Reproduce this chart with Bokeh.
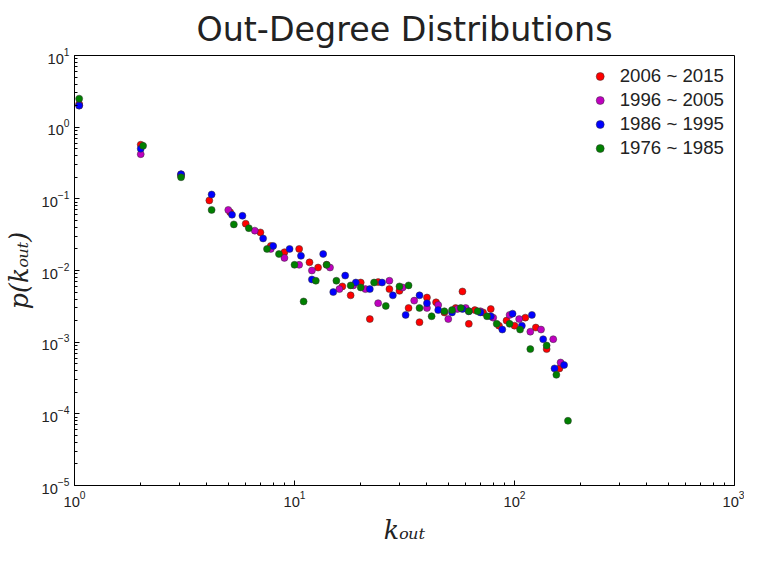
from bokeh.plotting import figure
from bokeh.models import Legend, LegendItem, LogTickFormatter, FixedTicker
from bokeh.embed import file_html
from bokeh.resources import INLINE

labels = ["2006 ~ 2015", "1996 ~ 2005", "1986 ~ 1995", "1976 ~ 1985"]
colors = ["red", "#bf00bf", "blue", "green"]

k_red = [1.05,2,3.05,4.1,5.1,6,7,7.8,9,10.5,11.7,12.8,14,16.5,18,20,22,24,27,30,33,37,40,44,48,54,58,62,66,72,78,85,92,100,112,125,140,160]
p_red = [2.1,0.57,0.21,0.095,0.065,0.045,0.034,0.022,0.018,0.02,0.013,0.011,0.012,0.006,0.0045,0.0068,0.0021,0.0069,0.0055,0.0052,0.003,0.0019,0.0042,0.0036,0.0026,0.003,0.0051,0.0018,0.0028,0.0026,0.0029,0.0017,0.002,0.0017,0.0022,0.0016,0.0008,0.00043]
k_mag = [1.05,2,3.05,5,6.6,7.8,9,10.5,12,14.5,16,18.5,21,24,27,31,35,40,45,50,55,60,70,80,95,105,118,132,150,162]
p_mag = [2.0,0.42,0.22,0.07,0.036,0.02,0.015,0.012,0.01,0.011,0.0055,0.0062,0.0055,0.0035,0.0072,0.0058,0.0038,0.003,0.0033,0.0021,0.0029,0.003,0.0027,0.0022,0.0024,0.0021,0.0014,0.0015,0.0011,0.00052]
k_blu = [1.05,2,3.05,4.2,5.2,5.8,7.2,8,9.5,10.7,12,13.5,15,17,19,22,25,28,32,37,40,45,52,58,62,70,78,88,98,108,120,135,152,168]
p_blu = [2.0,0.5,0.22,0.115,0.06,0.058,0.028,0.022,0.02,0.016,0.0075,0.017,0.005,0.0085,0.0068,0.0055,0.0068,0.0045,0.0024,0.0045,0.0035,0.0028,0.0026,0.0029,0.0027,0.0026,0.0023,0.0015,0.0025,0.0017,0.0024,0.0011,0.00043,0.00048]
k_grn = [1.05,2.05,3.05,4.2,5.3,6.2,7.5,8.5,10,11,12.5,14,15.5,18,20,23,26,30,33,37,42,48,52,57,62,68,75,83,95,106,118,140,155,175]
p_grn = [2.5,0.55,0.2,0.07,0.044,0.039,0.02,0.017,0.012,0.0037,0.0072,0.012,0.0072,0.0062,0.0058,0.0068,0.0032,0.006,0.0062,0.003,0.0023,0.0027,0.0028,0.003,0.0027,0.0027,0.0023,0.0018,0.0018,0.0015,0.0008,0.0009,0.00035,0.00008]

xs = [k_red, k_mag, k_blu, k_grn]
ys = [p_red, p_mag, p_blu, p_grn]

p = figure(width=744, height=547, x_axis_type="log", y_axis_type="log",
           x_range=(1, 1000), y_range=(1e-5, 10), output_backend="svg",
           toolbar_location=None, title="Out-Degree Distributions",
           x_axis_label="k\u2092\u1d64\u209c", y_axis_label="p(k\u2092\u1d64\u209c)")
p.min_border_left = 62
p.min_border_right = 10
p.min_border_top = 10
p.title.text_font = "DejaVu Sans"
p.title.text_font_size = "25pt"
p.title.text_font_style = "normal"
p.title.align = "center"
p.title.text_color = "#222222"
p.title.standoff = 14
p.outline_line_color = "black"
p.grid.visible = False
for ax in (p.xaxis, p.yaxis):
    ax.axis_label_text_font = "DejaVu Serif"
    ax.axis_label_text_font_style = "italic"
    ax.axis_label_text_font_size = "19pt"
    ax.axis_label_text_color = "#222222"
    ax.major_label_text_font_size = "11pt"
    ax.major_label_text_color = "#222222"
    ax.formatter = LogTickFormatter()
    ax.major_tick_in = 5
    ax.major_tick_out = 0
    ax.minor_tick_in = 3
    ax.minor_tick_out = 0
p.xaxis.ticker = FixedTicker(ticks=[1, 10, 100, 1000],
    minor_ticks=[m * 10**e for e in range(0, 3) for m in range(2, 10)])
p.yaxis.ticker = FixedTicker(ticks=[1e-5, 1e-4, 1e-3, 1e-2, 1e-1, 1, 10],
    minor_ticks=[m * 10.0**e for e in range(-5, 1) for m in range(2, 10)])

items = []
for x, y, c, l in zip(xs, ys, colors, labels):
    r = p.scatter(x, y, size=7, fill_color=c, line_color="#333333", line_width=0.5)
    items.append(LegendItem(label=l, renderers=[r]))
leg = Legend(items=items, location="top_right", label_text_font_size="14pt",
             label_text_color="#222222", glyph_width=30, spacing=2,
             border_line_color=None, background_fill_alpha=0)
p.add_layout(leg)

open("out.html", "w").write(file_html(p, INLINE))
